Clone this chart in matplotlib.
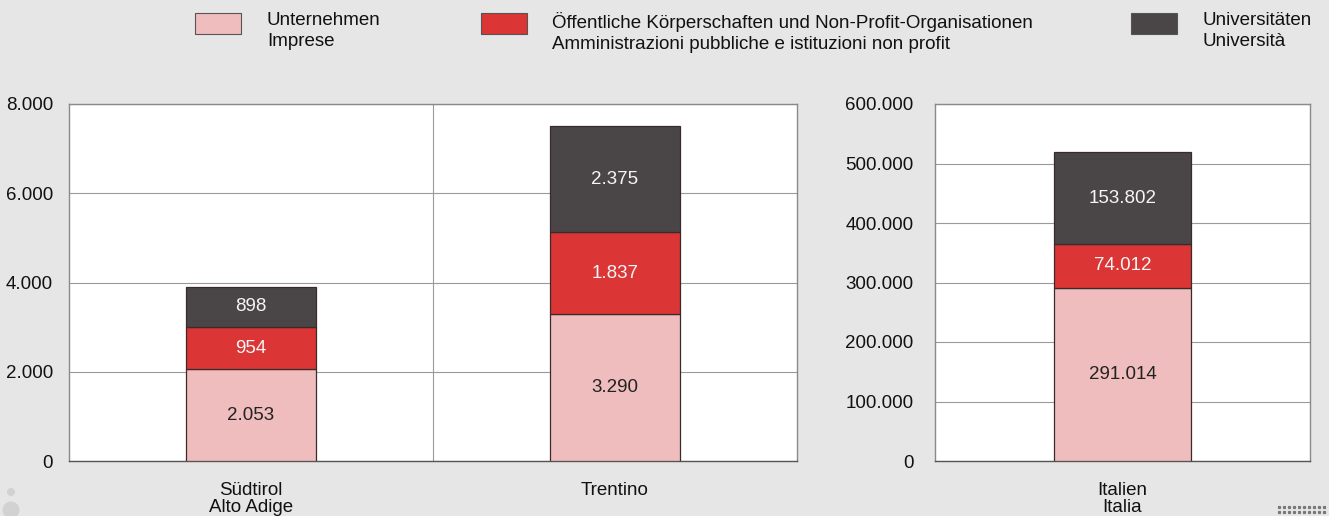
import matplotlib
matplotlib.use("Agg")
import matplotlib.pyplot as plt
from matplotlib.patches import Rectangle, Ellipse

plt.rcParams['font.family'] = ['Liberation Sans', 'DejaVu Sans']

# Data
regions_left = ["Südtirol\nAlto Adige", "Trentino"]
regions_right = ["Italien\nItalia"]
imprese_left = [2053, 3290]
pubblica_left = [954, 1837]
universita_left = [898, 2375]
imprese_right = [291014]
pubblica_right = [74012]
universita_right = [153802]
series_labels = ["Unternehmen\nImprese",
                 "Öffentliche Körperschaften und Non-Profit-Organisationen\nAmministrazioni pubbliche e istituzioni non profit",
                 "Universitäten\nUniversità"]
left_ticks = [0, 2000, 4000, 6000, 8000]
right_ticks = [0, 100000, 200000, 300000, 400000, 500000, 600000]

colors = ["#efbdbd", "#db3535", "#4a4647"]
text_colors = ["#222222", "#f5f5f5", "#f5f5f5"]
BG = "#e6e6e6"
GRID = "#9a9a9a"
FS = 13.5

W, H = 1329, 516
fig = plt.figure(figsize=(W / 100, H / 100), dpi=100)
fig.patch.set_facecolor(BG)


def fmt(v):
    return f"{v:,.0f}".replace(",", ".")


def make_axes(rect_px, ypad):
    x0, y0, x1, y1 = rect_px
    ax = fig.add_axes([x0 / W, (H - y1) / H, (x1 - x0) / W, (y1 - y0) / H])
    ax.set_facecolor("white")
    for s in ax.spines.values():
        s.set_color("#8a8a8a")
        s.set_linewidth(1.0)
    ax.spines['bottom'].set_color("#555555")
    ax.tick_params(axis='y', length=0, labelsize=FS, colors="#111111", pad=ypad)
    return ax


def draw(ax, cats, series, ticks, width):
    x = list(range(len(cats)))
    bottoms = [0] * len(cats)
    for vals, c, tc in zip(series, colors, text_colors):
        ax.bar(x, vals, width=width, bottom=bottoms, color=c, edgecolor="#3a2a2a",
               linewidth=0.9, zorder=3)
        for xi, v, b in zip(x, vals, bottoms):
            ax.text(xi, b + v / 2, fmt(v), ha="center", va="center", fontsize=FS,
                    color=tc, zorder=4)
        bottoms = [b + v for b, v in zip(bottoms, vals)]
    ax.set_yticks(ticks)
    ax.set_yticklabels([fmt(t) for t in ticks])
    ax.set_ylim(ticks[0], ticks[-1])
    ax.set_xlim(-0.5, len(cats) - 0.5)
    ax.set_xticks(x)
    ax.set_xticklabels(cats, fontsize=FS, linespacing=1.05, color="#111111")
    ax.tick_params(axis='x', length=0, pad=15)
    ax.grid(axis='y', color=GRID, linewidth=0.8, zorder=0)
    for i in range(1, len(cats)):
        ax.axvline(i - 0.5, color=GRID, linewidth=0.8, zorder=0)


ax1 = make_axes((69, 104, 797, 461), 11.5)
draw(ax1, regions_left, [imprese_left, pubblica_left, universita_left], left_ticks, 0.355)
ax2 = make_axes((935, 104, 1310, 461), 15.5)
draw(ax2, regions_right, [imprese_right, pubblica_right, universita_right], right_ticks, 0.365)

# Legend
patch_x = [195, 481, 1131]
text_x = [267, 552, 1202]
for px, tx, c, lab in zip(patch_x, text_x, colors, series_labels):
    fig.patches.append(Rectangle((px / W, 1 - 34 / H), 46 / W, 21 / H,
                                 transform=fig.transFigure, facecolor=c,
                                 edgecolor="#555555", linewidth=0.8))
    fig.text(tx / W, 1 - 12 / H, lab, ha="left", va="top", fontsize=FS,
             color="#111111", linespacing=1.32)

# Decorations
fig.patches.append(Ellipse((11 / W, 1 - 492 / H), 8 / W, 8 / H, transform=fig.transFigure,
                           facecolor="#d2d2d2", edgecolor="none"))
fig.patches.append(Ellipse((11 / W, 1 - 510 / H), 17 / W, 17 / H, transform=fig.transFigure,
                           facecolor="#d2d2d2", edgecolor="none"))
dx = [(1279 + 5 * i) / W for i in range(10)]
for yy in (507, 512):
    fig.lines.append(plt.Line2D(dx, [1 - yy / H] * len(dx), transform=fig.transFigure,
                                linestyle="none", marker="s", markersize=1.3,
                                color="#777777"))

fig.savefig("out.png", dpi=100, facecolor=BG)
